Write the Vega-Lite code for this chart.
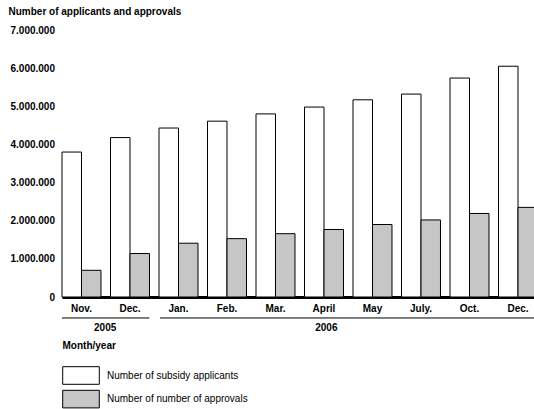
{
  "$schema": "https://vega.github.io/schema/vega-lite/v6.json",
  "autosize": {"type": "none"},
  "padding": {"left": 62, "top": 30, "right": 0, "bottom": 112},
  "width": 475.5,
  "height": 267,
  "background": "white",
  "config": {
    "view": {"stroke": null},
    "font": "Liberation Sans",
    "locale": {"number": {"decimal": ",", "thousands": ".", "grouping": [3], "currency": ["", ""]}}
  },
  "layer": [
    {
      "data": {
        "values": [
          {"month": "Nov. 2005", "series": "Number of subsidy applicants", "value": 3800000},
          {"month": "Nov. 2005", "series": "Number of number of approvals", "value": 700000},
          {"month": "Dec. 2005", "series": "Number of subsidy applicants", "value": 4180000},
          {"month": "Dec. 2005", "series": "Number of number of approvals", "value": 1140000},
          {"month": "Jan. 2006", "series": "Number of subsidy applicants", "value": 4430000},
          {"month": "Jan. 2006", "series": "Number of number of approvals", "value": 1410000},
          {"month": "Feb. 2006", "series": "Number of subsidy applicants", "value": 4610000},
          {"month": "Feb. 2006", "series": "Number of number of approvals", "value": 1530000},
          {"month": "Mar. 2006", "series": "Number of subsidy applicants", "value": 4800000},
          {"month": "Mar. 2006", "series": "Number of number of approvals", "value": 1660000},
          {"month": "April 2006", "series": "Number of subsidy applicants", "value": 4980000},
          {"month": "April 2006", "series": "Number of number of approvals", "value": 1770000},
          {"month": "May 2006", "series": "Number of subsidy applicants", "value": 5170000},
          {"month": "May 2006", "series": "Number of number of approvals", "value": 1900000},
          {"month": "July. 2006", "series": "Number of subsidy applicants", "value": 5320000},
          {"month": "July. 2006", "series": "Number of number of approvals", "value": 2020000},
          {"month": "Oct. 2006", "series": "Number of subsidy applicants", "value": 5740000},
          {"month": "Oct. 2006", "series": "Number of number of approvals", "value": 2190000},
          {"month": "Dec. 2006", "series": "Number of subsidy applicants", "value": 6050000},
          {"month": "Dec. 2006", "series": "Number of number of approvals", "value": 2350000}
        ]
      },
      "mark": {"type": "bar", "stroke": "black", "strokeWidth": 1},
      "encoding": {
        "x": {
          "field": "month", "type": "nominal", "sort": null,
          "scale": {"paddingInner": 0.196, "paddingOuter": 0},
          "axis": {
            "title": "Month/year", "titleX": 0, "titleY": 48, "titleAlign": "left", "titleAnchor": "start",
            "titleBaseline": "middle", "titleFontSize": 10, "titleFontWeight": "bold", "titleColor": "black",
            "titleFont": "Liberation Sans",
            "labelExpr": "split(datum.label, ' ')[0]", "labelAngle": 0, "labelFontSize": 10,
            "labelFontWeight": "bold", "labelColor": "black", "labelFont": "Liberation Sans",
            "labelPadding": 6, "labelBaseline": "top", "ticks": false, "tickSize": 0,
            "domainColor": "black", "domainWidth": 3, "grid": false, "labelOverlap": false
          }
        },
        "xOffset": {
          "field": "series", "type": "nominal",
          "sort": ["Number of subsidy applicants", "Number of number of approvals"],
          "scale": {"paddingInner": 0, "paddingOuter": 0}
        },
        "y": {
          "field": "value", "type": "quantitative",
          "title": "Number of applicants and approvals",
          "scale": {"domain": [0, 7000000], "nice": false},
          "axis": {
            "titleAngle": 0, "titleX": -54, "titleY": -19, "titleAlign": "left", "titleBaseline": "middle",
            "titleFontSize": 10, "titleFontWeight": "bold", "titleColor": "black", "titleFont": "Liberation Sans",
            "domain": false, "ticks": false, "tickSize": 0, "grid": false,
            "labelPadding": 7.5, "labelFontSize": 10, "labelFontWeight": "bold", "labelColor": "black",
            "labelFont": "Liberation Sans", "labelOverlap": false,
            "values": [0, 1000000, 2000000, 3000000, 4000000, 5000000, 6000000, 7000000],
            "format": ",d"
          }
        },
        "fill": {
          "field": "series", "type": "nominal",
          "scale": {
            "domain": ["Number of subsidy applicants", "Number of number of approvals"],
            "range": ["white", "#c6c6c6"]
          },
          "legend": {
            "orient": "none", "legendX": 9.5, "legendY": 336, "title": null, "direction": "vertical",
            "symbolType": "M-2.08,-1H2.08V1H-2.08Z", "symbolSize": 310,
            "symbolStrokeColor": "black", "symbolStrokeWidth": 1, "symbolOpacity": 1,
            "labelFontSize": 10, "labelFont": "Liberation Sans", "labelColor": "black",
            "labelOffset": 16.5, "rowPadding": 0.6, "padding": 0, "labelBaseline": "middle", "labelLimit": 300
          }
        }
      }
    },
    {
      "data": {
        "values": [
          {"year": "2005", "start": 0, "end": 1.8, "mid": 0.89},
          {"year": "2006", "start": 2.02, "end": 9.804, "mid": 5.45}
        ]
      },
      "layer": [
        {
          "mark": {"type": "rule", "color": "black", "strokeWidth": 1},
          "encoding": {
            "x": {"field": "start", "type": "quantitative", "scale": {"domain": [0, 9.804], "nice": false, "zero": false}, "axis": null},
            "x2": {"field": "end"},
            "y": {"datum": -550000, "type": "quantitative", "scale": {"domain": [0, 7000000], "nice": false, "zero": false}, "axis": null}
          }
        },
        {
          "mark": {"type": "text", "fontWeight": "bold", "fontSize": 10, "baseline": "middle", "align": "center", "color": "black", "font": "Liberation Sans"},
          "encoding": {
            "x": {"field": "mid", "type": "quantitative", "axis": null},
            "y": {"datum": -810000, "type": "quantitative", "axis": null},
            "text": {"field": "year"}
          }
        }
      ]
    }
  ],
  "resolve": {"scale": {"x": "independent", "y": "independent"}}
}
